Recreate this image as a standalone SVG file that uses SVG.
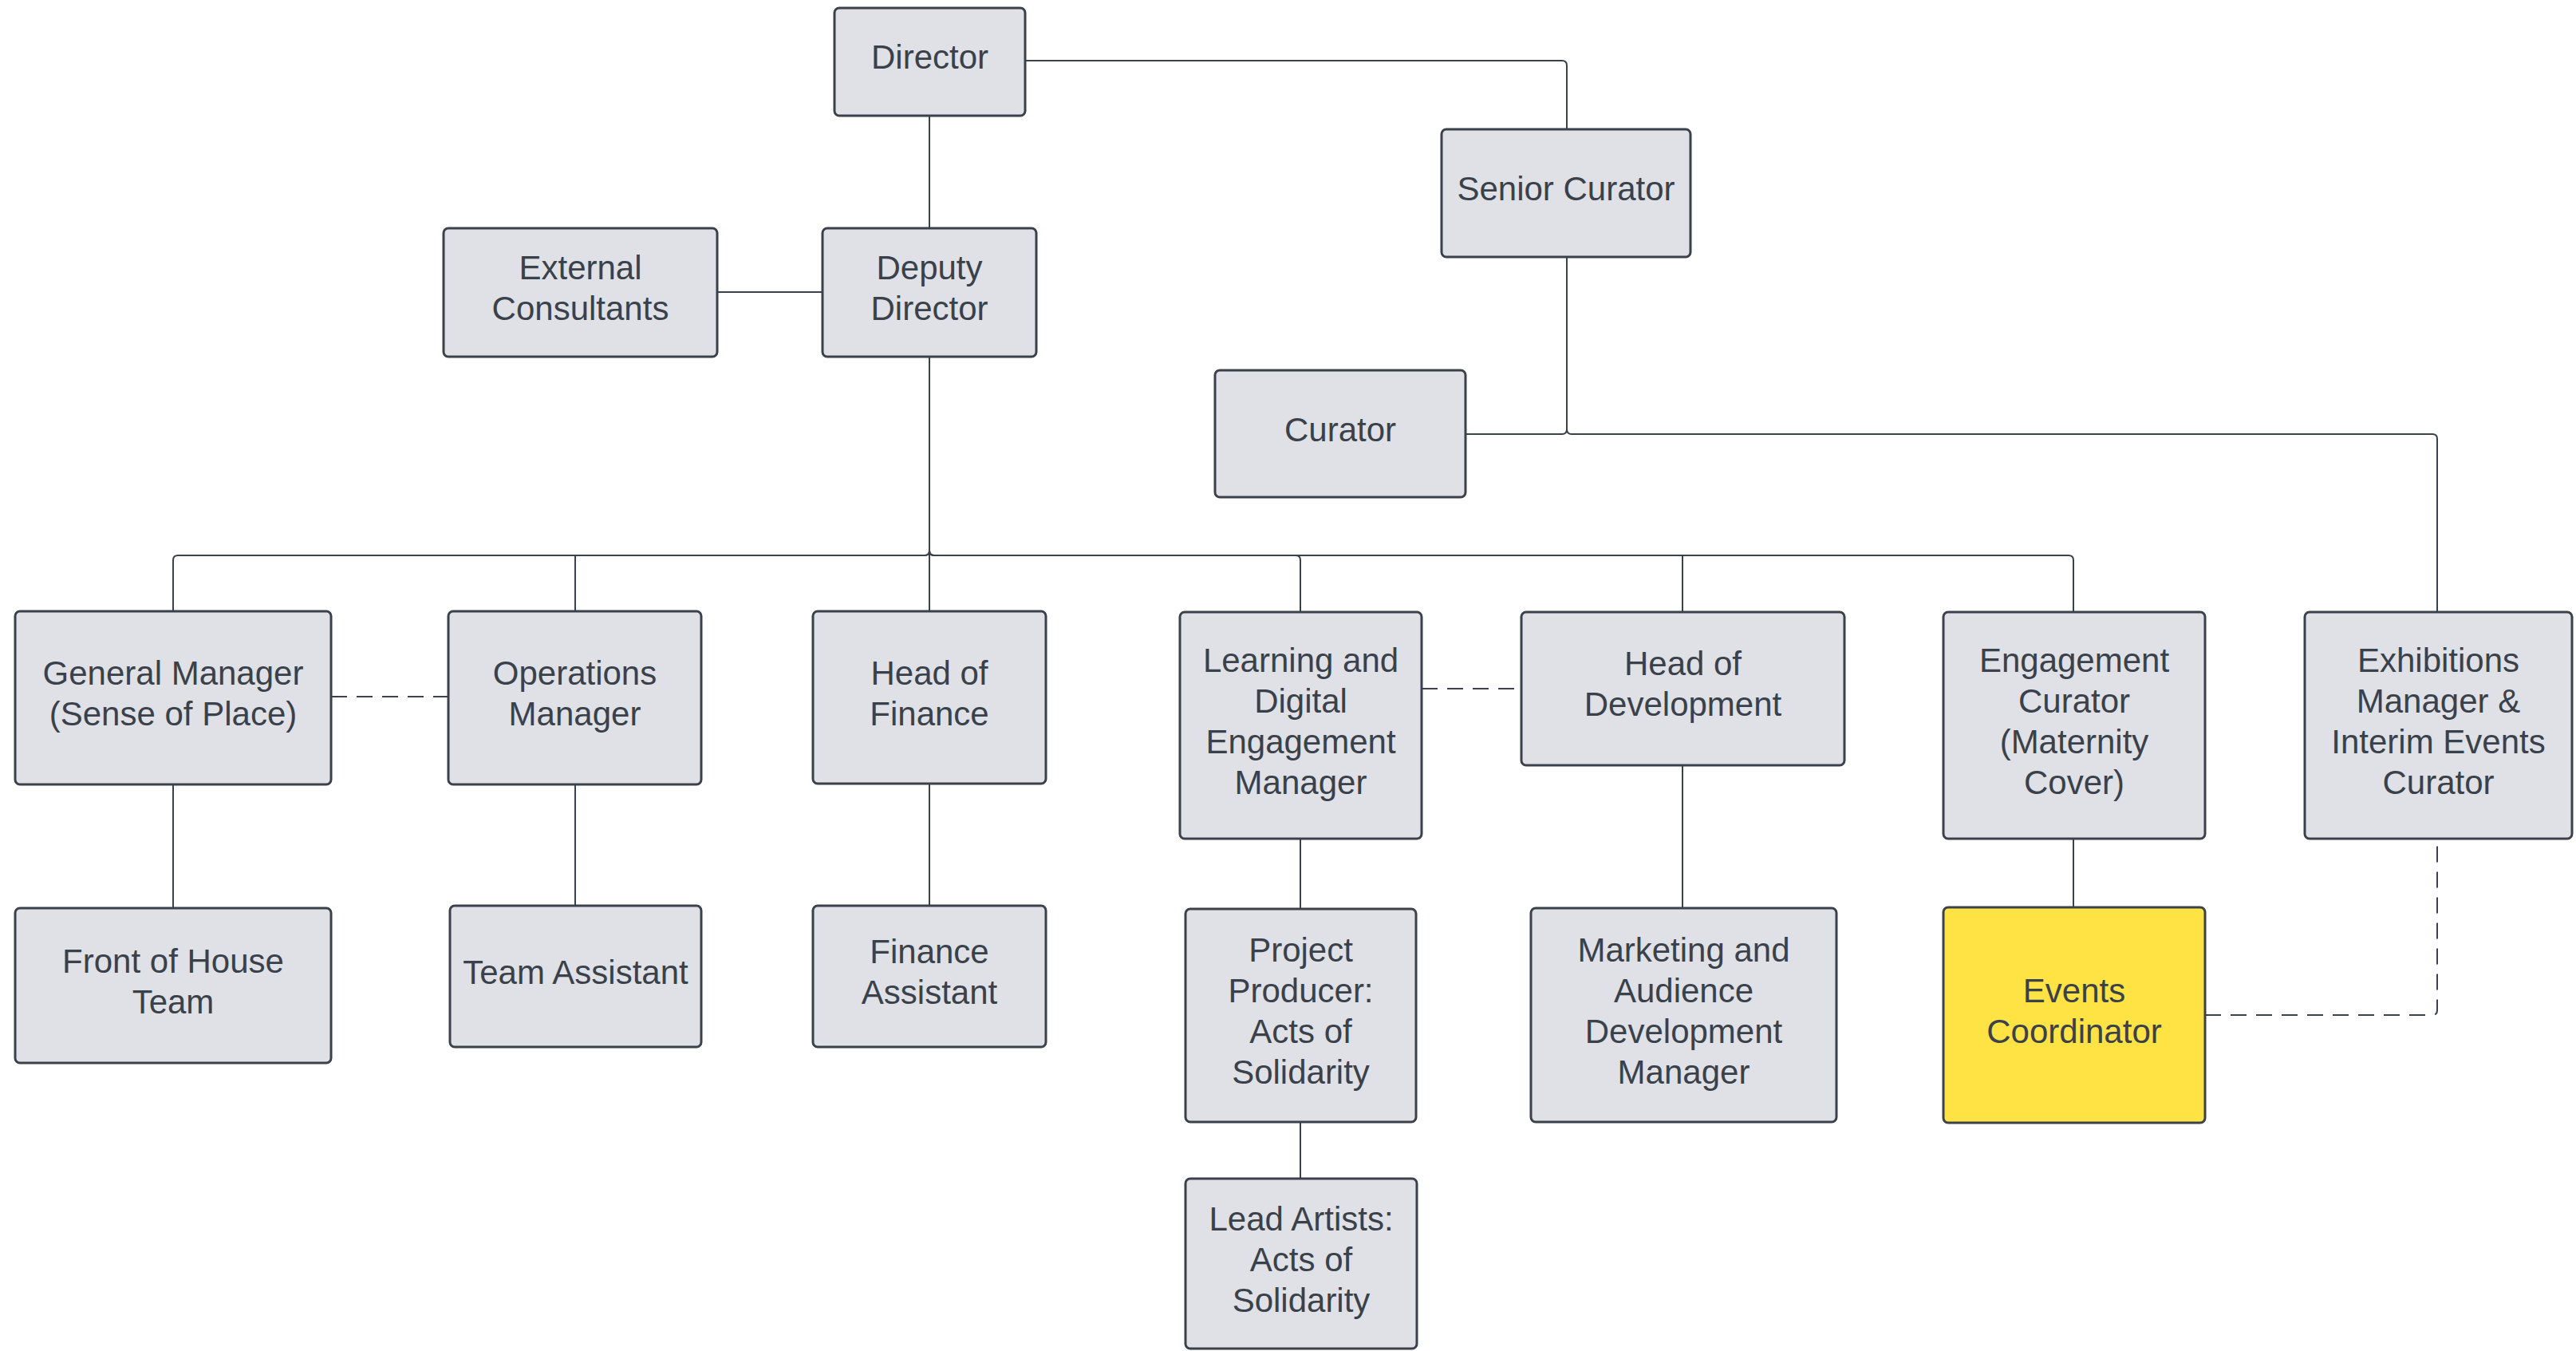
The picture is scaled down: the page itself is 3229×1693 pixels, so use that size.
<svg xmlns="http://www.w3.org/2000/svg" width="3229" height="1693" viewBox="0 0 3229 1693">
<style>
.box{fill:#dfe1e6;stroke:#3a414a;stroke-width:3}
.hl{fill:#ffe243;stroke:#3a414a;stroke-width:3}
.t{font-family:"Liberation Sans",Arial,sans-serif;font-size:42px;fill:#3a414a;text-anchor:middle}
.c{fill:none;stroke:#3a414a;stroke-width:2}
.d{fill:none;stroke:#3a414a;stroke-width:2;stroke-dasharray:20 12}
</style>
<rect width="3229" height="1693" fill="#ffffff"/>
<g id="connectors">
<path class="c" d="M1285,76 H1958 Q1964,76 1964,82 V162"/>
<path class="c" d="M1165,145 V286"/>
<path class="c" d="M899,366 H1031"/>
<path class="c" d="M1964,322 V538 Q1964,544 1958,544 H1837"/>
<path class="c" d="M1964,322 V538 Q1964,544 1970,544 H3049 Q3055,544 3055,550 V767"/>
<path class="c" d="M1165,447 V690 Q1165,696 1159,696 H223 Q217,696 217,702 V766"/>
<path class="c" d="M1165,447 V690 Q1165,696 1159,696 H721 V766"/>
<path class="c" d="M1165,447 V766"/>
<path class="c" d="M1165,447 V690 Q1165,696 1171,696 H1624 Q1630,696 1630,702 V767"/>
<path class="c" d="M1165,447 V690 Q1165,696 1171,696 H2109 V767"/>
<path class="c" d="M1165,447 V690 Q1165,696 1171,696 H2593 Q2599,696 2599,702 V767"/>
<path class="c" d="M217,983 V1138"/>
<path class="c" d="M721,983 V1135"/>
<path class="c" d="M1165,982 V1135"/>
<path class="c" d="M1630,1051 V1139"/>
<path class="c" d="M1630,1406 V1477"/>
<path class="c" d="M2109,959 V1138"/>
<path class="c" d="M2599,1051 V1137"/>
<path class="d" d="M415,873 H562"/>
<path class="d" d="M1782,863 H1907"/>
<path class="d" d="M2764,1272 H3049 Q3055,1272 3055,1266 V1051"/>
</g>
<g id="director"><rect class="box" x="1046" y="10" width="239" height="135" rx="6"/><text class="t" x="1165.5" y="86">Director</text></g>
<g id="senior-curator"><rect class="box" x="1807" y="162" width="312" height="160" rx="6"/><text class="t" x="1963" y="251">Senior Curator</text></g>
<g id="external-consultants"><rect class="box" x="556" y="286" width="343" height="161" rx="6"/><text class="t" x="727.5" y="350">External</text><text class="t" x="727.5" y="401">Consultants</text></g>
<g id="deputy-director"><rect class="box" x="1031" y="286" width="268" height="161" rx="6"/><text class="t" x="1165" y="350">Deputy</text><text class="t" x="1165" y="401">Director</text></g>
<g id="curator"><rect class="box" x="1523" y="464" width="314" height="159" rx="6"/><text class="t" x="1680" y="553">Curator</text></g>
<g id="general-manager"><rect class="box" x="19" y="766" width="396" height="217" rx="6"/><text class="t" x="217" y="858">General Manager</text><text class="t" x="217" y="909">(Sense of Place)</text></g>
<g id="operations-manager"><rect class="box" x="562" y="766" width="317" height="217" rx="6"/><text class="t" x="720.5" y="858">Operations</text><text class="t" x="720.5" y="909">Manager</text></g>
<g id="head-of-finance"><rect class="box" x="1019" y="766" width="292" height="216" rx="6"/><text class="t" x="1165" y="858">Head of</text><text class="t" x="1165" y="909">Finance</text></g>
<g id="learning-digital"><rect class="box" x="1479" y="767" width="303" height="284" rx="6"/><text class="t" x="1630.5" y="841.5">Learning and</text><text class="t" x="1630.5" y="892.5">Digital</text><text class="t" x="1630.5" y="943.5">Engagement</text><text class="t" x="1630.5" y="994.5">Manager</text></g>
<g id="head-of-development"><rect class="box" x="1907" y="767" width="405" height="192" rx="6"/><text class="t" x="2109.5" y="846">Head of</text><text class="t" x="2109.5" y="897">Development</text></g>
<g id="engagement-curator"><rect class="box" x="2436" y="767" width="328" height="284" rx="6"/><text class="t" x="2600" y="841.5">Engagement</text><text class="t" x="2600" y="892.5">Curator</text><text class="t" x="2600" y="943.5">(Maternity</text><text class="t" x="2600" y="994.5">Cover)</text></g>
<g id="exhibitions-manager"><rect class="box" x="2889" y="767" width="335" height="284" rx="6"/><text class="t" x="3056.5" y="841.5">Exhibitions</text><text class="t" x="3056.5" y="892.5">Manager &amp;</text><text class="t" x="3056.5" y="943.5">Interim Events</text><text class="t" x="3056.5" y="994.5">Curator</text></g>
<g id="front-of-house"><rect class="box" x="19" y="1138" width="396" height="194" rx="6"/><text class="t" x="217" y="1219">Front of House</text><text class="t" x="217" y="1270">Team</text></g>
<g id="team-assistant"><rect class="box" x="564" y="1135" width="315" height="177" rx="6"/><text class="t" x="721.5" y="1233">Team Assistant</text></g>
<g id="finance-assistant"><rect class="box" x="1019" y="1135" width="292" height="177" rx="6"/><text class="t" x="1165" y="1207">Finance</text><text class="t" x="1165" y="1258">Assistant</text></g>
<g id="project-producer"><rect class="box" x="1486" y="1139" width="289" height="267" rx="6"/><text class="t" x="1630.5" y="1205">Project</text><text class="t" x="1630.5" y="1256">Producer:</text><text class="t" x="1630.5" y="1307">Acts of</text><text class="t" x="1630.5" y="1358">Solidarity</text></g>
<g id="lead-artists"><rect class="box" x="1486" y="1477" width="290" height="213" rx="6"/><text class="t" x="1631" y="1542">Lead Artists:</text><text class="t" x="1631" y="1593">Acts of</text><text class="t" x="1631" y="1644">Solidarity</text></g>
<g id="marketing"><rect class="box" x="1919" y="1138" width="383" height="268" rx="6"/><text class="t" x="2110.5" y="1204.5">Marketing and</text><text class="t" x="2110.5" y="1255.5">Audience</text><text class="t" x="2110.5" y="1306.5">Development</text><text class="t" x="2110.5" y="1357.5">Manager</text></g>
<g id="events-coordinator"><rect class="hl" x="2436" y="1137" width="328" height="270" rx="6"/><text class="t" x="2600" y="1255.5">Events</text><text class="t" x="2600" y="1306.5">Coordinator</text></g>
</svg>
